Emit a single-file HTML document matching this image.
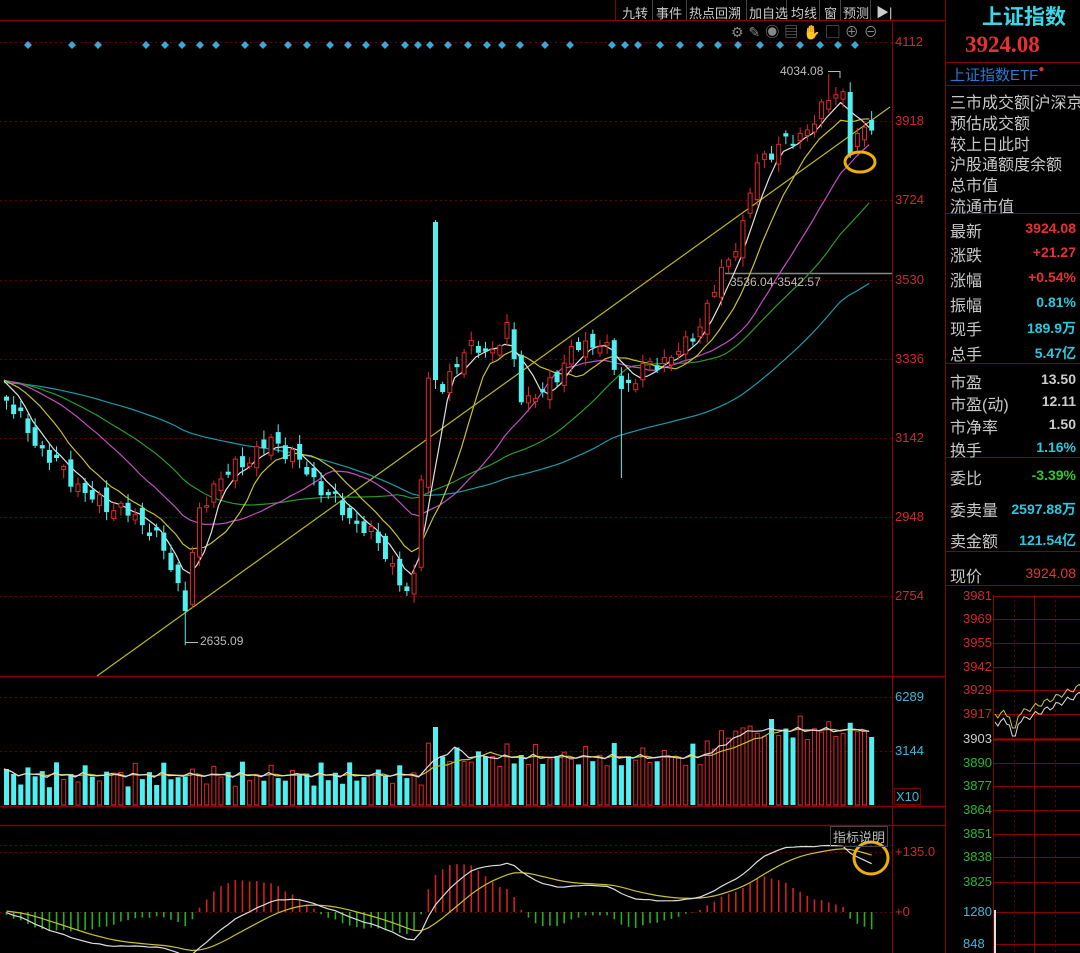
<!DOCTYPE html>
<html><head><meta charset="utf-8"><style>
*{margin:0;padding:0}
body{width:1080px;height:953px;background:#000;overflow:hidden;position:relative;font-family:"Liberation Sans","Noto Sans CJK SC",sans-serif}
.t{position:absolute;white-space:nowrap}
.rp{position:absolute;left:950px;font-size:16px;color:#c8c8c8;white-space:nowrap;width:130px;overflow:hidden}
.rv{position:absolute;right:4px;font-size:14px;font-weight:bold}
</style></head><body>
<svg id="s" width="1080" height="953" style="position:absolute;left:0;top:0"></svg>
<!-- toolbar -->
<div class="t" style="left:622px;top:3px;font-size:13px;color:#ccc">九转</div>
<div class="t" style="left:656px;top:3px;font-size:13px;color:#ccc">事件</div>
<div class="t" style="left:689px;top:3px;font-size:13px;color:#ccc">热点回溯</div>
<div class="t" style="left:749px;top:3px;font-size:13px;color:#ccc">加自选</div>
<div class="t" style="left:791px;top:3px;font-size:13px;color:#ccc">均线</div>
<div class="t" style="left:824px;top:3px;font-size:13px;color:#ccc">窗</div>
<div class="t" style="left:843px;top:3px;font-size:13px;color:#ccc">预测</div>
<div class="t" style="left:876px;top:2px;font-size:13px;color:#ccc">▶|</div>
<div class="t" style="left:731px;top:22px;font-size:14px;color:#888;letter-spacing:5px">⚙✎◉▤✋▢⊕⊖</div>
<!-- axis labels -->
<div class="t" style="left:895px;top:34px;font-size:13px;color:#d02828">4112</div>
<div class="t" style="left:895px;top:113px;font-size:13px;color:#d02828">3918</div>
<div class="t" style="left:895px;top:192px;font-size:13px;color:#d02828">3724</div>
<div class="t" style="left:895px;top:272px;font-size:13px;color:#d02828">3530</div>
<div class="t" style="left:895px;top:351px;font-size:13px;color:#d02828">3336</div>
<div class="t" style="left:895px;top:430px;font-size:13px;color:#d02828">3142</div>
<div class="t" style="left:895px;top:509px;font-size:13px;color:#d02828">2948</div>
<div class="t" style="left:895px;top:588px;font-size:13px;color:#d02828">2754</div>
<div class="t" style="left:895px;top:689px;font-size:13px;color:#3ab8d8">6289</div>
<div class="t" style="left:895px;top:743px;font-size:13px;color:#3ab8d8">3144</div>
<div class="t" style="left:894px;top:788px;font-size:13px;color:#3ab8d8;border:1px solid #7a0000;padding:0 1px">X10</div>
<div class="t" style="left:895px;top:844px;font-size:13px;color:#d02828">+135.0</div>
<div class="t" style="left:895px;top:904px;font-size:13px;color:#d02828">+0</div>
<div class="t" style="left:830px;top:826px;font-size:13px;color:#bbb;border:1px solid #444;padding:0 2px">指标说明</div>
<div class="t" style="left:780px;top:64px;font-size:12px;color:#bbb">4034.08</div>
<div class="t" style="left:200px;top:634px;font-size:12px;color:#bbb">2635.09</div>
<div class="t" style="left:730px;top:275px;font-size:12px;color:#bbb">3536.04-3542.57</div>
<!-- right panel -->
<div class="t" style="left:982px;top:1px;font-size:21px;color:#3ad8e8;font-weight:bold">上证指数</div>
<div class="t" style="left:965px;top:32px;font-size:23px;color:#e83030;font-family:'Liberation Serif',serif;font-weight:bold">3924.08</div>
<div class="t" style="left:950px;top:64px;font-size:15px;color:#2a7ad0">上证指数ETF<span style="color:#e03030;font-size:10px;vertical-align:top">●</span></div>
<div class="rp" style="top:89px">三市成交额[沪深京</div>
<div class="rp" style="top:110px">预估成交额</div>
<div class="rp" style="top:131px">较上日此时</div>
<div class="rp" style="top:151px">沪股通额度余额</div>
<div class="rp" style="top:172px">总市值</div>
<div class="rp" style="top:193px">流通市值</div>
<div class="rp" style="top:218px">最新</div><div class="rv" style="top:220px;color:#e83030">3924.08</div>
<div class="rp" style="top:242px">涨跌</div><div class="rv" style="top:244px;color:#e83030">+21.27</div>
<div class="rp" style="top:267px">涨幅</div><div class="rv" style="top:269px;color:#e83030">+0.54%</div>
<div class="rp" style="top:292px">振幅</div><div class="rv" style="top:294px;color:#2ac8e0">0.81%</div>
<div class="rp" style="top:316px">现手</div><div class="rv" style="top:318px;color:#2ac8e0">189.9万</div>
<div class="rp" style="top:341px">总手</div><div class="rv" style="top:343px;color:#2ac8e0">5.47亿</div>
<div class="rp" style="top:369px">市盈</div><div class="rv" style="top:371px;color:#ccc">13.50</div>
<div class="rp" style="top:391px">市盈(动)</div><div class="rv" style="top:393px;color:#ccc">12.11</div>
<div class="rp" style="top:414px">市净率</div><div class="rv" style="top:416px;color:#ccc">1.50</div>
<div class="rp" style="top:437px">换手</div><div class="rv" style="top:439px;color:#2ac8e0">1.16%</div>
<div class="rp" style="top:465px">委比</div><div class="rv" style="top:467px;color:#2cc82c">-3.39%</div>
<div class="rp" style="top:497px">委卖量</div><div class="rv" style="top:499px;color:#2ac8e0">2597.88万</div>
<div class="rp" style="top:528px">卖金额</div><div class="rv" style="top:530px;color:#2ac8e0">121.54亿</div>
<div class="rp" style="top:563px">现价</div><div class="rv" style="top:565px;color:#e83030;font-weight:normal">3924.08</div>
<div id="ml"></div>
<script>
var S=document.getElementById('s'),h='';
function L(x1,y1,x2,y2,c,w,d){h+='<line x1="'+x1+'" y1="'+y1+'" x2="'+x2+'" y2="'+y2+'" stroke="'+c+'" stroke-width="'+(w||1)+'"'+(d?' stroke-dasharray="'+d+'"':'')+'/>';}
function R(x,y,w,hh,f,st){h+='<rect x="'+x+'" y="'+y+'" width="'+w+'" height="'+hh+'" fill="'+f+'"'+(st?' stroke="'+st+'"':'')+'/>';}
function P(pts,c,w){h+='<polyline fill="none" stroke="'+c+'" stroke-width="'+(w||1)+'" points="'+pts.join(' ')+'"/>';}
var DR='#8a0000';
L(0,20.5,945,20.5,DR);L(892.5,20,892.5,953,DR);L(945.5,0,945.5,953,DR);L(615.5,0,615.5,20,DR);
L(0,676.5,945,676.5,DR,1.5);L(0,806.5,945,806.5,DR,1.5);L(0,825.5,945,825.5,DR,1.5);
[42,121,200,280,359,438,517,596].forEach(function(y){L(0,y+.5,892,y+.5,'#6a0000',1,'2,3');});
[697,751].forEach(function(y){L(0,y+.5,892,y+.5,'#6a0000',1,'2,3');});
[845,852,912].forEach(function(y){L(0,y+.5,892,y+.5,'#6a0000',1,'2,3');});
[62,85,213,363,457,551,585].forEach(function(y){L(945,y+.5,1080,y+.5,DR);});
var ml=[[3981,596,'#d02828'],[3969,619,'#d02828'],[3955,643,'#d02828'],[3942,667,'#d02828'],[3929,690,'#d02828'],[3917,714,'#d02828'],[3903,739,'#ccc'],[3890,763,'#2ab82a'],[3877,786,'#2ab82a'],[3864,810,'#2ab82a'],[3851,834,'#2ab82a'],[3838,857,'#2ab82a'],[3825,882,'#2ab82a'],[1280,912,'#3ab8d8'],[848,944,'#3ab8d8']];
var mh='';ml.forEach(function(m){mh+='<div class="t" style="left:963px;top:'+(m[1]-8)+'px;font-size:13px;color:'+m[2]+'">'+m[0]+'</div>';
 L(993,m[1]+.5,1080,m[1]+.5,DR,1);});
document.getElementById('ml').innerHTML=mh;
L(993,739.5,1080,739.5,'#b00000',2);L(993.5,595,993.5,953,DR);L(1034.5,595,1034.5,953,DR);L(1014.5,595,1014.5,953,'#6a0000',1,'2,3');L(1055.5,595,1055.5,953,'#6a0000',1,'2,3');
var wp=[],yp=[];for(var i=0;i<=30;i++){var x=995+i*2.9;var v=Math.sin(i*1.7)*4;var b=i<6?720+v:(i<8?734:720-(i-8)*1.3+v*0.7);if(b<683)b=683+Math.abs(v);yp.push(x+','+(b-6).toFixed(1));wp.push(x+','+(b+2).toFixed(1));}
P(yp,'#c8c850');P(wp,'#ddd');
L(995,910,995,953,'#dde',2);
function py(p){return 42+(4112-p)*0.4085;}
function yp2(y){return 4112-(y-42)/0.4085;}
var kf=[[0,390],[30,440],[60,470],[90,500],[120,510],[150,530],[170,570],[183,605],[195,520],[210,485],[230,470],[270,440],[290,455],[320,490],[350,520],[380,545],[400,590],[410,600],[418,480],[425,380],[440,390],[460,350],[490,350],[505,330],[520,400],[540,395],[570,350],[600,340],[620,390],[640,370],[680,350],[700,320],[720,270],[740,230],[755,160],[790,140],[815,120],[830,88],[840,92],[848,150],[860,130],[872,118]];
var N=122,sp=7.15,x0=4;
function interp(x){for(var k=1;k<kf.length;k++){if(x<=kf[k][0]){var a=kf[k-1],b=kf[k];return a[1]+(b[1]-a[1])*(x-a[0])/(b[0]-a[0]);}}return kf[kf.length-1][1];}
var C=[],O=[],H=[],Lo=[],X=[];
for(var i=0;i<N;i++){var x=x0+i*sp;X.push(x);var c=yp2(interp(x)+Math.sin(i*2.3)*6+Math.cos(i*1.3)*4);C.push(c);}
for(var i=0;i<N;i++){var o=i?C[i-1]+Math.sin(i*3.7)*18:C[i]+10;if(Math.abs(o-C[i])<4)o=C[i]+(i%2?8:-8);O.push(o);var hi=Math.max(o,C[i])+4+Math.abs(Math.sin(i*5.1))*18,lo=Math.min(o,C[i])-4-Math.abs(Math.cos(i*4.3))*18;H.push(hi);Lo.push(lo);}
var bi=Math.round((432-x0)/sp);H[bi]=yp2(220);O[bi]=yp2(222);C[bi]=yp2(380);
var li=Math.round((618-x0)/sp);Lo[li]=yp2(478);
var mi=Math.round((183-x0)/sp);Lo[mi]=2635;
var ti=Math.round((828-x0)/sp);H[ti]=4034;
var di=Math.round((846-x0)/sp);O[di]=yp2(92);C[di]=yp2(155);Lo[di]=yp2(158);
var pre=[];for(var i=0;i<60;i++)pre.push(3290-i*0.4+Math.sin(i)*10);pre.reverse();
var all=pre.concat(C);
function ma(n,col){var pts=[];for(var i=0;i<N;i++){var s=0;for(var j=0;j<n;j++)s+=all[60+i-j];pts.push(X[i].toFixed(1)+','+py(s/n).toFixed(1));}P(pts,col,1.2);}
L(97,676,890,107,'#b8b820',1.2);
L(725,273.5,892,273.5,'#888',1.5);
ma(60,'#1a9aa8');ma(30,'#2a9a2a');ma(20,'#c050c0');ma(10,'#c8c030');ma(5,'#e0e0e0');
for(var i=0;i<N;i++){var x=X[i],up=C[i]>=O[i],col=up?'#e02828':'#50f0f0';
 var t=py(Math.max(O[i],C[i])),b=py(Math.min(O[i],C[i]));
 L(x+2.5,py(H[i]),x+2.5,t,col);L(x+2.5,b,x+2.5,py(Lo[i]),col);
 if(up)R(x+.5,t,4,Math.max(b-t,1),'#000',col);else R(x,t,5,Math.max(b-t,1.5),col);}
L(185,642.5,198,642.5,'#bbb');L(828,71.5,840,71.5,'#bbb');L(840,71,840,78,'#bbb');
[28,72,98,146,165,182,200,216,245,263,288,307,330,348,366,385,405,418,430,448,468,487,502,520,545,570,612,625,638,660,680,700,718,738,760,780,800,820,838,855].forEach(function(x){h+='<polygon points="'+x+',41 '+(x+4)+',45 '+x+',49 '+(x-4)+',45" fill="#3aa8d8"/>';});
var V=[];
for(var i=0;i<N;i++){var x=X[i];var base=x<420?30:(x<700?48:62);if(x>720)base=75;var v=base+Math.sin(i*2.9)*8+Math.cos(i*1.7)*6;if(Math.abs(x-432)<4)v=78;if(x>870)v=8;V.push(v);
 var up=C[i]>=O[i],col=up?'#e02828':'#50f0f0';if(up)R(x+.5,805-v,4,v,'#000',col);else R(x,805-v,5,v,col);}
function vma(n,col){var pts=[];for(var i=0;i<N;i++){var s=0,c=0;for(var j=0;j<n&&i-j>=0;j++){s+=V[i-j];c++;}pts.push(X[i].toFixed(1)+','+(805-s/c).toFixed(1));}P(pts,col,1.2);}
vma(10,'#c8c030');vma(5,'#ddd');
function ema(a,n){var k=2/(n+1),r=[],e=a[0];for(var i=0;i<a.length;i++){e=i?a[i]*k+e*(1-k):a[0];r.push(e);}return r;}
var e12=ema(all,12),e26=ema(all,26),dif=e12.map(function(v,i){return v-e26[i];}),dea=ema(dif,9);
var sc=60/135,dp=[],ep=[];
for(var i=0;i<N;i++){var d=dif[60+i],e=dea[60+i],hv=2*(d-e);var x=X[i]+2.5;
 L(x,912,x,912-hv*sc,hv>0?'#d02020':'#20b020',1.6);
 dp.push(x.toFixed(1)+','+(912-d*sc).toFixed(1));ep.push(x.toFixed(1)+','+(912-e*sc).toFixed(1));}
P(ep,'#c8c030',1.2);P(dp,'#ddd',1.2);
h+='<ellipse cx="860" cy="162" rx="15" ry="10" fill="none" stroke="#f0b000" stroke-width="3"/>';
h+='<ellipse cx="871" cy="858" rx="17" ry="16" fill="none" stroke="#f0b000" stroke-width="3"/>';
[652,686,746,786,819,840,870].forEach(function(x){L(x+.5,0,x+.5,20,'#444');});
S.innerHTML=h;
</script>
</body></html>
